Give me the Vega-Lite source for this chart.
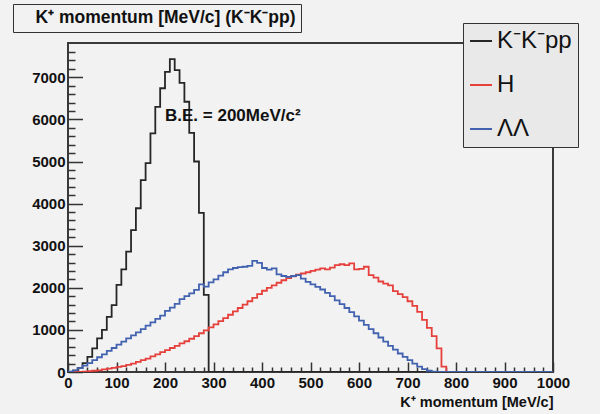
{
  "$schema": "https://vega.github.io/schema/vega-lite/v6.json",
  "width": 485,
  "height": 329,
  "autosize": {"type": "none"},
  "padding": {"left": 68, "top": 43, "right": 47, "bottom": 42},
  "background": "#f2f2f2",
  "config": {
    "view": {"stroke": "#3a3a3a", "strokeWidth": 2, "fill": "#f2f2f2"},
    "font": "Liberation Sans"
  },
  "layer": [
    {
      "data": {
        "values": [
          {"series": "K⁻K⁻pp", "p": 0, "n": 0}, {"series": "K⁻K⁻pp", "p": 10, "n": 30}, {"series": "K⁻K⁻pp", "p": 20, "n": 90}, {"series": "K⁻K⁻pp", "p": 30, "n": 210}, {"series": "K⁻K⁻pp", "p": 40, "n": 360}, {"series": "K⁻K⁻pp", "p": 50, "n": 560}, {"series": "K⁻K⁻pp", "p": 60, "n": 800}, {"series": "K⁻K⁻pp", "p": 70, "n": 1000}, {"series": "K⁻K⁻pp", "p": 80, "n": 1310}, {"series": "K⁻K⁻pp", "p": 90, "n": 1590}, {"series": "K⁻K⁻pp", "p": 100, "n": 2070}, {"series": "K⁻K⁻pp", "p": 110, "n": 2440}, {"series": "K⁻K⁻pp", "p": 120, "n": 2860}, {"series": "K⁻K⁻pp", "p": 130, "n": 3370}, {"series": "K⁻K⁻pp", "p": 140, "n": 3890}, {"series": "K⁻K⁻pp", "p": 150, "n": 4560}, {"series": "K⁻K⁻pp", "p": 160, "n": 4960}, {"series": "K⁻K⁻pp", "p": 170, "n": 5670}, {"series": "K⁻K⁻pp", "p": 180, "n": 6300}, {"series": "K⁻K⁻pp", "p": 190, "n": 6740}, {"series": "K⁻K⁻pp", "p": 200, "n": 7130}, {"series": "K⁻K⁻pp", "p": 210, "n": 7430}, {"series": "K⁻K⁻pp", "p": 220, "n": 7170}, {"series": "K⁻K⁻pp", "p": 230, "n": 6870}, {"series": "K⁻K⁻pp", "p": 240, "n": 6420}, {"series": "K⁻K⁻pp", "p": 250, "n": 5680}, {"series": "K⁻K⁻pp", "p": 260, "n": 5000}, {"series": "K⁻K⁻pp", "p": 270, "n": 3780}, {"series": "K⁻K⁻pp", "p": 280, "n": 1830}, {"series": "K⁻K⁻pp", "p": 290, "n": 0}, {"series": "K⁻K⁻pp", "p": 1000, "n": 0},
          {"series": "H", "p": 0, "n": 0}, {"series": "H", "p": 10, "n": 0}, {"series": "H", "p": 20, "n": 5}, {"series": "H", "p": 30, "n": 10}, {"series": "H", "p": 40, "n": 20}, {"series": "H", "p": 50, "n": 30}, {"series": "H", "p": 60, "n": 40}, {"series": "H", "p": 70, "n": 60}, {"series": "H", "p": 80, "n": 80}, {"series": "H", "p": 90, "n": 100}, {"series": "H", "p": 100, "n": 120}, {"series": "H", "p": 110, "n": 140}, {"series": "H", "p": 120, "n": 170}, {"series": "H", "p": 130, "n": 200}, {"series": "H", "p": 140, "n": 240}, {"series": "H", "p": 150, "n": 280}, {"series": "H", "p": 160, "n": 320}, {"series": "H", "p": 170, "n": 370}, {"series": "H", "p": 180, "n": 420}, {"series": "H", "p": 190, "n": 470}, {"series": "H", "p": 200, "n": 520}, {"series": "H", "p": 210, "n": 570}, {"series": "H", "p": 220, "n": 620}, {"series": "H", "p": 230, "n": 680}, {"series": "H", "p": 240, "n": 730}, {"series": "H", "p": 250, "n": 790}, {"series": "H", "p": 260, "n": 850}, {"series": "H", "p": 270, "n": 920}, {"series": "H", "p": 280, "n": 990}, {"series": "H", "p": 290, "n": 1060}, {"series": "H", "p": 300, "n": 1130}, {"series": "H", "p": 310, "n": 1210}, {"series": "H", "p": 320, "n": 1280}, {"series": "H", "p": 330, "n": 1360}, {"series": "H", "p": 340, "n": 1440}, {"series": "H", "p": 350, "n": 1520}, {"series": "H", "p": 360, "n": 1600}, {"series": "H", "p": 370, "n": 1680}, {"series": "H", "p": 380, "n": 1760}, {"series": "H", "p": 390, "n": 1850}, {"series": "H", "p": 400, "n": 1930}, {"series": "H", "p": 410, "n": 2000}, {"series": "H", "p": 420, "n": 2060}, {"series": "H", "p": 430, "n": 2120}, {"series": "H", "p": 440, "n": 2180}, {"series": "H", "p": 450, "n": 2230}, {"series": "H", "p": 460, "n": 2270}, {"series": "H", "p": 470, "n": 2310}, {"series": "H", "p": 480, "n": 2340}, {"series": "H", "p": 490, "n": 2370}, {"series": "H", "p": 500, "n": 2400}, {"series": "H", "p": 510, "n": 2430}, {"series": "H", "p": 520, "n": 2460}, {"series": "H", "p": 530, "n": 2440}, {"series": "H", "p": 540, "n": 2480}, {"series": "H", "p": 550, "n": 2540}, {"series": "H", "p": 560, "n": 2560}, {"series": "H", "p": 570, "n": 2540}, {"series": "H", "p": 580, "n": 2580}, {"series": "H", "p": 590, "n": 2440}, {"series": "H", "p": 600, "n": 2450}, {"series": "H", "p": 610, "n": 2500}, {"series": "H", "p": 620, "n": 2300}, {"series": "H", "p": 630, "n": 2240}, {"series": "H", "p": 640, "n": 2150}, {"series": "H", "p": 650, "n": 2100}, {"series": "H", "p": 660, "n": 2060}, {"series": "H", "p": 670, "n": 1920}, {"series": "H", "p": 680, "n": 1850}, {"series": "H", "p": 690, "n": 1780}, {"series": "H", "p": 700, "n": 1680}, {"series": "H", "p": 710, "n": 1570}, {"series": "H", "p": 720, "n": 1430}, {"series": "H", "p": 730, "n": 1240}, {"series": "H", "p": 740, "n": 1050}, {"series": "H", "p": 750, "n": 850}, {"series": "H", "p": 760, "n": 560}, {"series": "H", "p": 770, "n": 130}, {"series": "H", "p": 780, "n": 0}, {"series": "H", "p": 1000, "n": 0},
          {"series": "ΛΛ", "p": 0, "n": 10}, {"series": "ΛΛ", "p": 10, "n": 40}, {"series": "ΛΛ", "p": 20, "n": 90}, {"series": "ΛΛ", "p": 30, "n": 150}, {"series": "ΛΛ", "p": 40, "n": 210}, {"series": "ΛΛ", "p": 50, "n": 280}, {"series": "ΛΛ", "p": 60, "n": 350}, {"series": "ΛΛ", "p": 70, "n": 420}, {"series": "ΛΛ", "p": 80, "n": 500}, {"series": "ΛΛ", "p": 90, "n": 570}, {"series": "ΛΛ", "p": 100, "n": 650}, {"series": "ΛΛ", "p": 110, "n": 720}, {"series": "ΛΛ", "p": 120, "n": 800}, {"series": "ΛΛ", "p": 130, "n": 870}, {"series": "ΛΛ", "p": 140, "n": 940}, {"series": "ΛΛ", "p": 150, "n": 1020}, {"series": "ΛΛ", "p": 160, "n": 1100}, {"series": "ΛΛ", "p": 170, "n": 1180}, {"series": "ΛΛ", "p": 180, "n": 1260}, {"series": "ΛΛ", "p": 190, "n": 1340}, {"series": "ΛΛ", "p": 200, "n": 1450}, {"series": "ΛΛ", "p": 210, "n": 1530}, {"series": "ΛΛ", "p": 220, "n": 1620}, {"series": "ΛΛ", "p": 230, "n": 1730}, {"series": "ΛΛ", "p": 240, "n": 1800}, {"series": "ΛΛ", "p": 250, "n": 1870}, {"series": "ΛΛ", "p": 260, "n": 1950}, {"series": "ΛΛ", "p": 270, "n": 2080}, {"series": "ΛΛ", "p": 280, "n": 2030}, {"series": "ΛΛ", "p": 290, "n": 2130}, {"series": "ΛΛ", "p": 300, "n": 2200}, {"series": "ΛΛ", "p": 310, "n": 2290}, {"series": "ΛΛ", "p": 320, "n": 2370}, {"series": "ΛΛ", "p": 330, "n": 2440}, {"series": "ΛΛ", "p": 340, "n": 2470}, {"series": "ΛΛ", "p": 350, "n": 2490}, {"series": "ΛΛ", "p": 360, "n": 2500}, {"series": "ΛΛ", "p": 370, "n": 2520}, {"series": "ΛΛ", "p": 380, "n": 2640}, {"series": "ΛΛ", "p": 390, "n": 2590}, {"series": "ΛΛ", "p": 400, "n": 2470}, {"series": "ΛΛ", "p": 410, "n": 2430}, {"series": "ΛΛ", "p": 420, "n": 2460}, {"series": "ΛΛ", "p": 430, "n": 2320}, {"series": "ΛΛ", "p": 440, "n": 2280}, {"series": "ΛΛ", "p": 450, "n": 2260}, {"series": "ΛΛ", "p": 460, "n": 2280}, {"series": "ΛΛ", "p": 470, "n": 2300}, {"series": "ΛΛ", "p": 480, "n": 2220}, {"series": "ΛΛ", "p": 490, "n": 2140}, {"series": "ΛΛ", "p": 500, "n": 2080}, {"series": "ΛΛ", "p": 510, "n": 2020}, {"series": "ΛΛ", "p": 520, "n": 1960}, {"series": "ΛΛ", "p": 530, "n": 1880}, {"series": "ΛΛ", "p": 540, "n": 1800}, {"series": "ΛΛ", "p": 550, "n": 1700}, {"series": "ΛΛ", "p": 560, "n": 1610}, {"series": "ΛΛ", "p": 570, "n": 1520}, {"series": "ΛΛ", "p": 580, "n": 1420}, {"series": "ΛΛ", "p": 590, "n": 1320}, {"series": "ΛΛ", "p": 600, "n": 1220}, {"series": "ΛΛ", "p": 610, "n": 1120}, {"series": "ΛΛ", "p": 620, "n": 1020}, {"series": "ΛΛ", "p": 630, "n": 920}, {"series": "ΛΛ", "p": 640, "n": 820}, {"series": "ΛΛ", "p": 650, "n": 720}, {"series": "ΛΛ", "p": 660, "n": 620}, {"series": "ΛΛ", "p": 670, "n": 530}, {"series": "ΛΛ", "p": 680, "n": 440}, {"series": "ΛΛ", "p": 690, "n": 360}, {"series": "ΛΛ", "p": 700, "n": 280}, {"series": "ΛΛ", "p": 710, "n": 200}, {"series": "ΛΛ", "p": 720, "n": 130}, {"series": "ΛΛ", "p": 730, "n": 70}, {"series": "ΛΛ", "p": 740, "n": 30}, {"series": "ΛΛ", "p": 750, "n": 10}, {"series": "ΛΛ", "p": 760, "n": 0}, {"series": "ΛΛ", "p": 1000, "n": 0}
        ]
      },
      "mark": {"type": "line", "interpolate": "step-after", "strokeWidth": 1.8, "clip": true},
      "encoding": {
        "x": {
          "field": "p", "type": "quantitative",
          "scale": {"domain": [0, 1000], "nice": false},
          "axis": {
            "values": [0,20,40,60,80,100,120,140,160,180,200,220,240,260,280,300,320,340,360,380,400,420,440,460,480,500,520,540,560,580,600,620,640,660,680,700,720,740,760,780,800,820,840,860,880,900,920,940,960,980,1000],
            "tickCount": 200,
            "format": "d",
            "labelExpr": "datum.value % 100 === 0 ? datum.label : ''",
            "tickSize": {"condition": {"test": "datum.value % 100 === 0", "value": -10}, "value": -5},
            "labelPadding": 13,
            "labelFontSize": 15, "labelFontWeight": "bold", "labelColor": "#111",
            "labelOverlap": false, "labelFlush": false,
            "tickColor": "#333", "tickWidth": 1.5,
            "domain": false, "grid": false,
            "title": "K⁺ momentum [MeV/c]", "titleAnchor": "end",
            "titleFontSize": 14.5, "titleFontWeight": "bold", "titleColor": "#111", "titlePadding": 0
          }
        },
        "y": {
          "field": "n", "type": "quantitative",
          "scale": {"domain": [0, 7815], "nice": false},
          "axis": {
            "values": [0,200,400,600,800,1000,1200,1400,1600,1800,2000,2200,2400,2600,2800,3000,3200,3400,3600,3800,4000,4200,4400,4600,4800,5000,5200,5400,5600,5800,6000,6200,6400,6600,6800,7000,7200,7400,7600],
            "tickCount": 200,
            "format": "d",
            "labelExpr": "datum.value % 1000 === 0 ? datum.label : ''",
            "tickSize": {"condition": {"test": "datum.value % 1000 === 0", "value": -14.5}, "value": -7},
            "labelPadding": 17.5,
            "labelFontSize": 15, "labelFontWeight": "bold", "labelColor": "#111",
            "labelOverlap": false, "labelFlush": false,
            "tickColor": "#333", "tickWidth": 1.5,
            "domain": false, "grid": false, "title": null
          }
        },
        "color": {
          "field": "series", "type": "nominal",
          "scale": {"domain": ["K⁻K⁻pp", "H", "ΛΛ"], "range": ["#262626", "#e5403c", "#4262b0"]},
          "legend": {
            "orient": "none", "legendX": 395, "legendY": -20, "title": null,
            "direction": "vertical",
            "padding": 6, "rowPadding": 20,
            "labelFontSize": 24, "labelFont": "Liberation Sans", "labelColor": "#111", "labelOffset": 4, "labelLimit": 0,
            "symbolType": "stroke", "symbolSize": 484, "symbolStrokeWidth": 2,
            "fillColor": "#e9e9e9", "strokeColor": "#333"
          }
        },
        "strokeDash": {
          "datum": "K⁺ momentum [MeV/c] (K⁻K⁻pp)", "type": "nominal",
          "scale": {"range": [[1, 0]]},
          "legend": {
            "orient": "none", "legendX": -55, "legendY": -39, "title": null,
            "padding": 5, "symbolSize": 0, "symbolOpacity": 0, "symbolStrokeWidth": 0, "labelOffset": 0,
            "labelFontSize": 17.5, "labelFontWeight": "bold", "labelColor": "#111", "labelLimit": 0,
            "fillColor": "#f2f2f2", "strokeColor": "#333"
          }
        }
      }
    },
    {
      "data": {"values": [{"note": "B.E. = 200MeV/c²", "p": 200, "n": 6080}]},
      "mark": {"type": "text", "align": "left", "baseline": "middle", "fontSize": 17, "fontWeight": "bold", "font": "Liberation Sans", "color": "#111"},
      "encoding": {
        "x": {"field": "p", "type": "quantitative"},
        "y": {"field": "n", "type": "quantitative"},
        "text": {"field": "note"}
      }
    }
  ]
}
